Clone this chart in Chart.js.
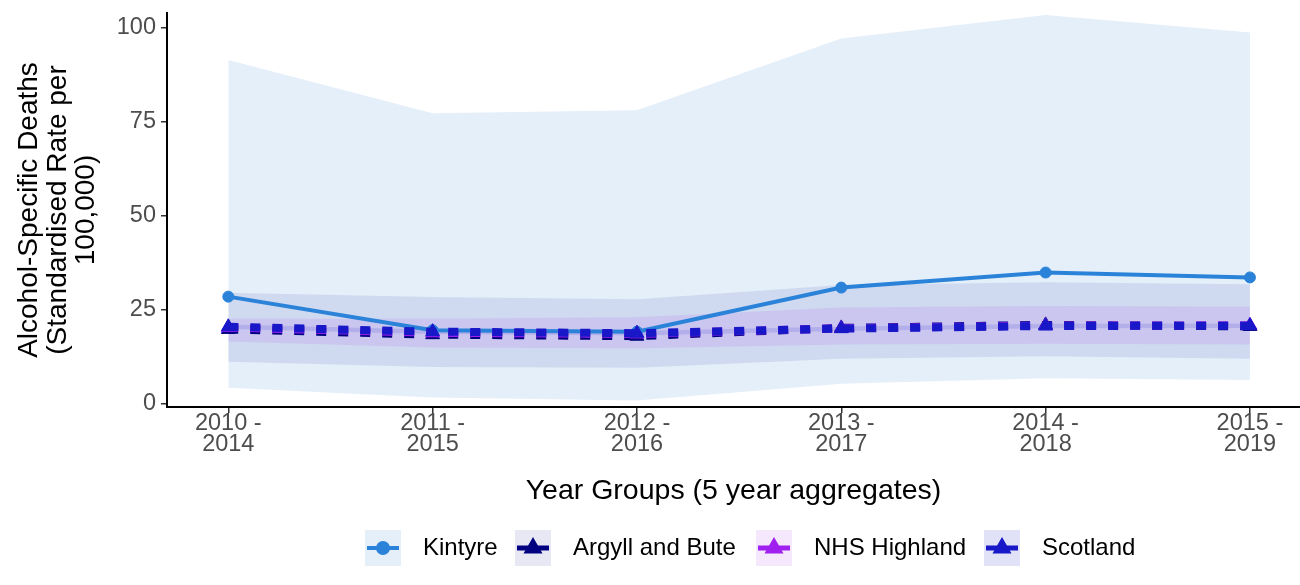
<!DOCTYPE html>
<html>
<head>
<meta charset="utf-8">
<script src="https://cdn.jsdelivr.net/npm/chart.js@4/dist/chart.umd.min.js"></script>
<style>
	body { margin: 0; background: #fff; overflow: hidden; }
	#wrap { width: 1300px; height: 585px; }
</style>
</head>
<body>
<div id="wrap"><canvas id="chart" width="1300" height="585"></canvas></div>
<script>
// year groups (5 year aggregates)
var yearGroups = ['2010 - 2014', '2011 - 2015', '2012 - 2016', '2013 - 2017', '2014 - 2018', '2015 - 2019'];
var yTicks = [0, 25, 50, 75, 100];
var seriesNames = ['Kintyre', 'Argyll and Bute', 'NHS Highland', 'Scotland'];

// rates per 100,000 and confidence bands
var kintyre = [28.5, 19.6, 19.2, 30.9, 34.9, 33.6];
var kintyreLow = [4.3, 1.7, 0.9, 5.4, 6.8, 6.4];
var kintyreHigh = [91.3, 77.2, 78.0, 97.0, 103.3, 98.6];

var argyll = [19.8, 18.4, 18.0, 20.2, 21.0, 20.6];
var argyllLow = [11.2, 9.8, 9.6, 12.0, 12.7, 12.0];
var argyllHigh = [29.5, 28.4, 27.8, 31.6, 32.3, 31.8];

var nhs = [20.3, 18.9, 18.6, 20.1, 20.8, 20.9];
var nhsLow = [16.6, 15.0, 14.8, 15.8, 16.0, 15.8];
var nhsHigh = [22.6, 22.6, 23.0, 25.6, 26.0, 25.8];

var scotland = [20.5, 19.2, 18.8, 20.0, 20.7, 20.8];
var scotlandLow = [19.9, 18.6, 18.2, 19.4, 20.1, 20.2];
var scotlandHigh = [21.1, 19.8, 19.4, 20.6, 21.3, 21.4];

var colours = ['#2b83d9', '#000080', '#a020f0', '#1818c8'];
var fills = ['rgba(43,131,217,0.13)', 'rgba(0,0,128,0.09)', 'rgba(160,32,240,0.10)', 'rgba(24,24,200,0.13)'];
var dotted = [10, 12];
var fontFamily = '"Liberation Sans", Arial, sans-serif';

function pts(arr) {
	return arr.map(function (v, i) { return { x: i, y: v }; });
}

function band(low, high, idx, ord) {
	return [
		{ data: pts(low), borderWidth: 0, pointRadius: 0, fill: false, order: ord, isBand: true },
		{ data: pts(high), borderWidth: 0, pointRadius: 0, fill: '-1', backgroundColor: fills[idx], order: ord, isBand: true }
	];
}

function line(values, idx, ord) {
	var solid = idx === 0;
	return {
		label: seriesNames[idx],
		data: pts(values),
		borderColor: colours[idx],
		backgroundColor: colours[idx],
		borderWidth: solid ? 4 : 8,
		borderDash: solid ? [] : dotted,
		borderCapStyle: 'butt',
		pointStyle: solid ? 'circle' : 'triangle',
		pointRadius: solid ? 5.5 : 8,
		pointBorderWidth: 1,
		pointBackgroundColor: colours[idx],
		pointBorderColor: colours[idx],
		fill: false,
		tension: 0,
		order: ord
	};
}

var datasets = []
	.concat(band(kintyreLow, kintyreHigh, 0, 20))
	.concat(band(argyllLow, argyllHigh, 1, 19))
	.concat(band(nhsLow, nhsHigh, 2, 18))
	.concat(band(scotlandLow, scotlandHigh, 3, 17))
	.concat([line(kintyre, 0, 5), line(argyll, 1, 4), line(nhs, 2, 3), line(scotland, 3, 2)]);

// ggplot style legend: filled key box with line and marker
var keyLegend = {
	id: 'keyLegend',
	afterDraw: function (chart) {
		var ctx = chart.ctx;
		var keyX = [365, 515, 756, 984];
		var cy = 548, size = 36;
		var lines = chart.data.datasets.filter(function (d) { return !d.isBand; });
		ctx.save();
		lines.forEach(function (d, i) {
			var x = keyX[i];
			var solid = i === 0;
			ctx.fillStyle = fills[i];
			ctx.fillRect(x, cy - size / 2, size, size);
			ctx.strokeStyle = d.borderColor;
			ctx.lineWidth = solid ? 4 : 5;
			ctx.lineCap = 'butt';
			ctx.beginPath();
			ctx.moveTo(x + 2, cy);
			ctx.lineTo(x + size - 2, cy);
			ctx.stroke();
			ctx.fillStyle = d.borderColor;
			ctx.strokeStyle = d.borderColor;
			Chart.helpers.drawPoint(ctx, {
				pointStyle: d.pointStyle, radius: solid ? 5 : 6, borderWidth: 1
			}, x + size / 2, cy);
			ctx.fillStyle = '#000';
			ctx.font = '24px ' + fontFamily;
			ctx.textBaseline = 'middle';
			ctx.textAlign = 'left';
			ctx.fillText(d.label, x + size + 22, cy);
		});
		ctx.restore();
	}
};

new Chart(document.getElementById('chart').getContext('2d'), {
	type: 'line',
	data: { datasets: datasets },
	plugins: [keyLegend],
	options: {
		responsive: false,
		animation: false,
		layout: { autoPadding: false, padding: { top: 13, right: 0, bottom: 70, left: 0 } },
		plugins: {
			legend: { display: false },
			tooltip: { enabled: false }
		},
		scales: {
			x: {
				type: 'linear',
				min: -0.3,
				max: 5.245,
				afterFit: function (scale) {
					scale.height = 108;
					scale.paddingLeft = 0;
					scale.paddingRight = 0;
				},
				afterBuildTicks: function (scale) {
					scale.ticks = yearGroups.map(function (g, i) { return { value: i }; });
				},
				ticks: {
					autoSkip: false,
					maxRotation: 0,
					padding: 0,
					color: '#4d4d4d',
					font: { family: fontFamily, size: 23.5, lineHeight: 0.9 },
					callback: function (v) {
						var g = yearGroups[v];
						if (!g) return '';
						var parts = g.split(' - ');
						return [parts[0] + ' -', parts[1]];
					}
				},
				grid: { display: true, drawOnChartArea: false, tickLength: 6, color: '#333', lineWidth: 1.5 },
				border: { display: true, color: '#000', width: 2 },
				title: {
					display: true,
					text: 'Year Groups (5 year aggregates)',
					color: '#000',
					font: { family: fontFamily, size: 28.5, lineHeight: 1.2 },
					padding: { top: 0, bottom: 7 }
				}
			},
			y: {
				min: -0.8,
				max: 103.8,
				afterFit: function (scale) {
					scale.width = 167;
					scale.paddingTop = 0;
					scale.paddingBottom = 0;
				},
				afterBuildTicks: function (scale) {
					scale.ticks = yTicks.map(function (t) { return { value: t }; });
				},
				ticks: {
					padding: 5,
					color: '#4d4d4d',
					font: { family: fontFamily, size: 23.5 }
				},
				grid: { display: true, drawOnChartArea: false, tickLength: 6, color: '#333', lineWidth: 1.5 },
				border: { display: true, color: '#000', width: 2 },
				title: {
					display: true,
					text: ['Alcohol-Specific Deaths', '(Standardised Rate per', '100,000)'],
					color: '#000',
					font: { family: fontFamily, size: 28, lineHeight: 1.02 },
					padding: { top: 15, bottom: 0 }
				}
			}
		}
	}
});
</script>
</body>
</html>
